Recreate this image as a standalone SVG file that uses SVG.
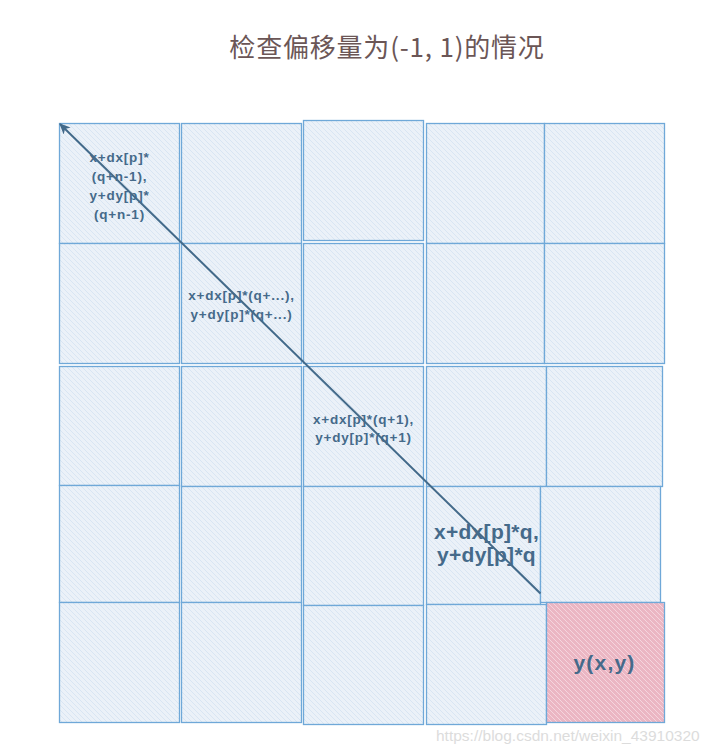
<svg xmlns="http://www.w3.org/2000/svg" width="717" height="754" viewBox="0 0 717 754">
<style>
.cell{fill:url(#hatch);stroke:#6fa8d8;stroke-width:1.3}
.red{fill:url(#hatchRed);stroke:#6fa8d8;stroke-width:1.3}
.lbl{font-family:"Liberation Sans",Arial,sans-serif;font-weight:bold;fill:#456a8a;text-anchor:middle}
.sm{font-size:13.5px;letter-spacing:0.8px}
.lg{font-size:21px;letter-spacing:0.3px}
.title{font-family:"Noto Sans CJK SC","Noto Sans",sans-serif;font-size:26px;letter-spacing:0.8px;fill:#6b5656;text-anchor:middle}
.wm{font-family:"Liberation Sans",Arial,sans-serif;font-size:15.5px;fill:#dcdcdc}
</style>
<defs>
<pattern id="hatch" patternUnits="userSpaceOnUse" width="5" height="5">
<rect width="5" height="5" fill="#ebf1f8"/>
<path d="M-1,-1 L6,6 M-1,4 L1,6 M4,-1 L6,1" stroke="#d3e2f1" stroke-width="0.8"/>
</pattern>
<pattern id="hatchRed" patternUnits="userSpaceOnUse" width="5" height="5">
<rect width="5" height="5" fill="#ebb6c3"/>
<path d="M-1,-1 L6,6 M-1,4 L1,6 M4,-1 L6,1" stroke="#f7dde5" stroke-width="0.8"/>
</pattern>
<marker id="arr" markerWidth="12" markerHeight="10" refX="10" refY="5" orient="auto" markerUnits="userSpaceOnUse">
<path d="M0,0 L11,5 L0,10 L3,5 Z" fill="#436a8a"/>
</marker>
</defs>
<rect width="717" height="754" fill="#ffffff"/>
<text class="title" x="387" y="57">检查偏移量为(-1, 1)的情况</text>
<g id="cells">
<g id="r1c1"><rect class="cell" x="59.5" y="123.5" width="120" height="120"/></g>
<g id="r1c2"><rect class="cell" x="181.5" y="123.5" width="120" height="120"/></g>
<g id="r1c3"><rect class="cell" x="303.5" y="120.5" width="120" height="120"/></g>
<g id="r1c4"><rect class="cell" x="426.5" y="123.5" width="118" height="120"/></g>
<g id="r1c5"><rect class="cell" x="544.5" y="123.5" width="120" height="120"/></g>
<g id="r2c1"><rect class="cell" x="59.5" y="243.5" width="120" height="120"/></g>
<g id="r2c2"><rect class="cell" x="181.5" y="243.5" width="120" height="120"/></g>
<g id="r2c3"><rect class="cell" x="303.5" y="243.5" width="120" height="120"/></g>
<g id="r2c4"><rect class="cell" x="426.5" y="243.5" width="118" height="120"/></g>
<g id="r2c5"><rect class="cell" x="544.5" y="243.5" width="120" height="120"/></g>
<g id="r3c1"><rect class="cell" x="59.5" y="366.5" width="120" height="119"/></g>
<g id="r3c2"><rect class="cell" x="181.5" y="366.5" width="120" height="120"/></g>
<g id="r3c3"><rect class="cell" x="303.5" y="366.5" width="120" height="120"/></g>
<g id="r3c4"><rect class="cell" x="426.5" y="366.5" width="120" height="120"/></g>
<g id="r3c5"><rect class="cell" x="546.5" y="366.5" width="116" height="120"/></g>
<g id="r4c1"><rect class="cell" x="59.5" y="485.5" width="120" height="117"/></g>
<g id="r4c2"><rect class="cell" x="181.5" y="486.5" width="120" height="116"/></g>
<g id="r4c3"><rect class="cell" x="303.5" y="486.5" width="120" height="119"/></g>
<g id="r4c4"><rect class="cell" x="426.5" y="486.5" width="114" height="118"/></g>
<g id="r4c5"><rect class="cell" x="540.5" y="486.5" width="120" height="116"/></g>
<g id="r5c1"><rect class="cell" x="59.5" y="602.5" width="120" height="120"/></g>
<g id="r5c2"><rect class="cell" x="181.5" y="602.5" width="120" height="120"/></g>
<g id="r5c3"><rect class="cell" x="303.5" y="605.5" width="120" height="119"/></g>
<g id="r5c4"><rect class="cell" x="426.5" y="604.5" width="120" height="120"/></g>
<g id="r5c5"><rect class="red" x="546.5" y="602.5" width="118" height="120"/></g>
</g>
<g id="connectors">
<line x1="540.5" y1="593.5" x2="60" y2="124" stroke="#436a8a" stroke-width="2" marker-end="url(#arr)"/>
</g>
<g id="labels">
<text class="lbl sm" x="119.5"><tspan x="119.5" y="161.5">x+dx[p]*</tspan><tspan x="119.5" y="180.5">(q+n-1),</tspan><tspan x="119.5" y="199.5">y+dy[p]*</tspan><tspan x="119.5" y="218.5">(q+n-1)</tspan></text>
<text class="lbl sm" x="241.5"><tspan x="241.5" y="300">x+dx[p]*(q+...),</tspan><tspan x="241.5" y="319">y+dy[p]*(q+...)</tspan></text>
<text class="lbl sm" x="363.5"><tspan x="363.5" y="423.5">x+dx[p]*(q+1),</tspan><tspan x="363.5" y="442">y+dy[p]*(q+1)</tspan></text>
<text class="lbl lg" x="486.5"><tspan x="486.5" y="539">x+dx[p]*q,</tspan><tspan x="486.5" y="561.5">y+dy[p]*q</tspan></text>
<text class="lbl lg" x="604.5" y="670" style="letter-spacing:1.2px">y(x,y)</text>
</g>
<text class="wm" x="436" y="741">https://blog.csdn.net/weixin_43910320</text>
</svg>
